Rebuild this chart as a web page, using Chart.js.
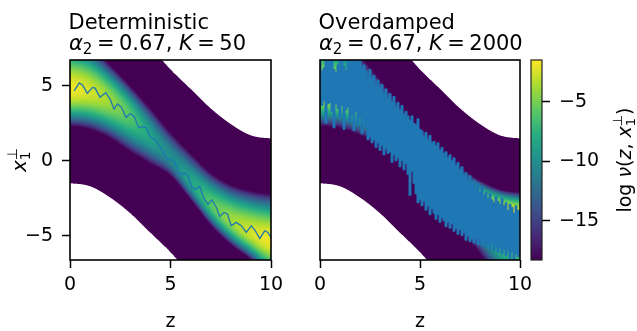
<!DOCTYPE html>
<html>
<head>
<meta charset="utf-8">
<script src="https://cdn.jsdelivr.net/npm/chart.js@4.4.1/dist/chart.umd.min.js"></script>
<style>
  html, body { margin: 0; padding: 0; background: #fff; }
  #wrap { position: relative; width: 637px; height: 331px; overflow: hidden; }
  .box { position: absolute; top: 0; height: 331px; }
  canvas { display: block; }
</style>
</head>
<body>
<div id="wrap">
  <div class="box" style="left:0;width:300px"><canvas id="left" width="300" height="331"></canvas></div>
  <div class="box" style="left:250px;width:300px"><canvas id="right" width="300" height="331"></canvas></div>
  <div class="box" style="left:500px;width:137px"><canvas id="cbar" width="137" height="331"></canvas></div>
</div>
<script>
// axis ranges and ticks
const zRange = [0, 10];
const xRange = [-6.62, 6.73];
const cbarRange = [-18.3, -1.5];
const zTicks = [0, 5, 10];

const detCenter = [4.8, 4.6, 4.0, 3.0, 1.6, 0.2, -1.4, -2.9, -4.0, -4.8, -5.3];
const detUpper  = [8.0, 7.6, 6.4, 5.0, 3.5, 1.9, 0.5, -0.8, -1.6, -2.0, -2.2];
const detLower  = [2.3, 2.1, 1.5, 0.6, -0.2, -1.0, -2.6, -4.3, -5.6, -6.6, -7.8];
const detPeak   = [-1.8, -2.6, -4, -6, -8.5, -10, -8.5, -6, -4, -2.6, -1.8];

const odCenter = [4.8, 4.5, 3.9, 3.0, 1.8, 0.4, -1.0, -2.2, -2.7, -3.2, -3.6];
const odUpper  = [8.2, 8.0, 7.0, 5.4, 3.6, 2.2, 0.85, -0.4, -1.3, -1.9, -2.1];
const odLower  = [2.3, 2.2, 1.7, 1.1, 0.2, -0.8, -2.9, -4.5, -6.2, -8.0, -8.8];
const odPeak   = [-2.2, -2.8, -4.5, -6, -7.5, -8.5, -7.5, -5.5, -3.5, -2.2, -1.6];

// white (undefined) region outside these limits
const maskLower = [-1.5, -1.7, -2.45, -3.5, -4.8, -6.1, -7.6, -8.9, -9.9, -10.5, -10.7];
const maskUpper = [10.7, 10.5, 9.9, 8.9, 7.6, 6.1, 4.8, 3.5, 2.45, 1.7, 1.5];

// deterministic trajectory
const detPathZ = [0.21, 0.46, 0.63, 0.86, 1.12, 1.25, 1.49, 1.78, 2.0, 2.19, 2.36, 2.55, 2.79, 3.0, 3.2, 3.42, 3.6, 3.8, 4.0, 4.2, 4.38, 4.6, 4.86,
  5.04, 5.21, 5.46, 5.71, 5.87, 6.07, 6.28, 6.45, 6.67, 6.87, 7.06, 7.28, 7.45, 7.66, 7.83, 8.02, 8.27, 8.52, 8.77, 9.02, 9.22, 9.44, 9.69, 9.85, 9.99];
const detPathX = [4.67, 5.2, 5.05, 4.5, 4.9, 4.85, 4.25, 4.55, 4.1, 3.45, 3.8, 3.6, 2.9, 3.15, 2.95, 2.2, 2.3, 2.2, 1.55, 1.45, 1.1, 0.68, 0.05,
  0.11, -0.11, -0.89, -0.82, -1.0, -1.78, -1.89, -1.71, -2.55, -2.89, -2.6, -3.11, -3.71, -3.45, -3.55, -4.33, -4.11, -4.33, -4.78, -4.33, -4.67, -5.18, -4.67, -4.78, -5.11];

// overdamped trajectory envelope, every 0.1 in z
const odTop = [7.0, 6.0, 6.2, 7.0, 7.0, 6.6, 7.0, 6.1, 5.9, 6.4,
  7.0, 7.0, 6.3, 6.0, 7.0, 7.0, 6.5, 7.0, 6.8, 7.0,
  6.7, 6.2, 6.4, 6.0, 5.6, 6.1, 5.5, 5.7, 5.0, 5.4,
  4.9, 5.1, 4.4, 4.8, 4.2, 4.5, 3.9, 4.3, 3.6, 3.9,
  3.4, 3.7, 3.1, 3.3, 3.0, 2.7, 3.0, 2.5, 2.4, 2.8,
  2.1, 2.0, 1.6, 1.9, 1.4, 1.7, 1.2, 1.3, 1.0, 1.2,
  0.7, 0.9, 0.5, 0.6, 0.2, 0.4, 0.0, 0.2, -0.3, -0.1,
  -0.6, -0.4, -1.0, -0.8, -1.3, -1.0, -1.5, -1.3, -1.8, -1.5,
  -2.1, -1.7, -2.3, -2.1, -2.5, -2.2, -2.6, -2.8, -2.4, -2.7,
  -2.9, -2.5, -3.0, -2.8, -3.3, -2.9, -3.1, -3.5, -3.0, -3.3,
  -3.4];
const odBottom = [3.9, 3.7, 4.0, 2.5, 3.8, 3.9, 3.3, 2.2, 3.8, 3.5,
  2.9, 3.7, 2.1, 3.4, 3.6, 2.6, 3.1, 2.0, 3.3, 2.4,
  2.9, 1.8, 2.6, 2.2, 1.4, 1.6, 1.2, 1.4, 0.9, 1.2,
  0.7, 1.0, 0.4, 0.8, 0.5, 0.6, -0.1, 0.4, 0.0, 0.2,
  -0.4, 0.0, -0.6, -0.2, -0.9, -2.3, -0.7, -1.5, -2.2, -2.8,
  -2.6, -3.0, -2.7, -3.3, -3.0, -3.6, -3.2, -3.5, -3.9, -3.6,
  -4.1, -3.8, -4.0, -4.4, -4.1, -4.5, -4.2, -4.7, -4.5, -4.9,
  -4.6, -5.0, -4.8, -5.3, -5.0, -5.4, -5.2, -5.5, -5.1, -5.6,
  -5.3, -5.7, -5.4, -5.8, -5.5, -5.9, -5.5, -6.0, -5.7, -6.1,
  -5.8, -6.2, -5.9, -6.3, -6.0, -6.5, -6.1, -6.6, -6.2, -6.4,
  -6.3];

const BLUE = '#1f77b4';
const VIRIDIS = ['#440154','#472c7a','#3b518b','#2c718e','#21908d','#27ad81','#5cc863','#aadc32','#fde725']
  .map(h => [1, 3, 5].map(i => parseInt(h.substr(i, 2), 16)));

function viridis(t) {
  t = Math.max(0, Math.min(1, t)) * (VIRIDIS.length - 1);
  const i = Math.min(VIRIDIS.length - 2, Math.floor(t)), f = t - i;
  return VIRIDIS[i].map((c, k) => c + (VIRIDIS[i + 1][k] - c) * f);
}

// smooth curve through the per-unit samples
function sample(arr, z) {
  const n = arr.length - 1;
  const s = Math.max(0, Math.min(n, z));
  const i = Math.min(n - 1, Math.floor(s)), t = s - i;
  const p0 = arr[Math.max(0, i - 1)], p1 = arr[i], p2 = arr[i + 1], p3 = arr[Math.min(n, i + 2)];
  return 0.5 * (2 * p1 + (p2 - p0) * t + (2 * p0 - 5 * p1 + 4 * p2 - p3) * t * t + (3 * p1 - p0 - 3 * p2 + p3) * t * t * t);
}

function column(prof, z) {
  return {
    mLo: sample(maskLower, z), mUp: sample(maskUpper, z),
    c: sample(prof.center, z), pk: sample(prof.peak, z),
    up: sample(prof.upper, z), lo: sample(prof.lower, z)
  };
}

function colourAt(col, x) {
  if (x < col.mLo || x > col.mUp) return [255, 255, 255];
  const edge = x >= col.c ? col.up : col.lo;
  const r = (x - col.c) / (edge - col.c);
  const v = Math.max(cbarRange[0], col.pk - (col.pk - cbarRange[0]) * r * r);
  return viridis((v - cbarRange[0]) / (cbarRange[1] - cbarRange[0]));
}

const SS = 3;
function heatPlugin(prof) {
  return {
    id: 'heat',
    beforeDatasetsDraw(chart) {
      const a = chart.chartArea, xs = chart.scales.x, ys = chart.scales.y;
      const w = Math.round(a.right - a.left), h = Math.round(a.bottom - a.top);
      const off = document.createElement('canvas');
      off.width = w; off.height = h;
      const octx = off.getContext('2d');
      const img = octx.createImageData(w, h);
      const rows = [];
      for (let j = 0; j < h * SS; j++) rows.push(ys.getValueForPixel(a.top + (j + 0.5) / SS));
      for (let i = 0; i < w; i++) {
        const cols = [];
        for (let s = 0; s < SS; s++) cols.push(column(prof, xs.getValueForPixel(a.left + i + (s + 0.5) / SS)));
        for (let j = 0; j < h; j++) {
          const acc = [0, 0, 0];
          for (const col of cols) {
            for (let s = 0; s < SS; s++) {
              const c = colourAt(col, rows[j * SS + s]);
              acc[0] += c[0]; acc[1] += c[1]; acc[2] += c[2];
            }
          }
          const k = (j * w + i) * 4, n = SS * SS;
          img.data[k] = acc[0] / n; img.data[k + 1] = acc[1] / n; img.data[k + 2] = acc[2] / n;
          img.data[k + 3] = 255;
        }
      }
      octx.putImageData(img, 0, 0);
      chart.ctx.drawImage(off, a.left, a.top, w, h);
    }
  };
}

const framePlugin = {
  id: 'frame',
  afterDatasetsDraw(chart) {
    const a = chart.chartArea, ctx = chart.ctx;
    ctx.save();
    ctx.strokeStyle = '#000';
    ctx.lineWidth = 1.6;
    ctx.strokeRect(a.left, a.top, a.right - a.left, a.bottom - a.top);
    ctx.restore();
  }
};

const F = 'DejaVu Sans';
const font = (size, italic) => (italic ? 'italic ' : '') + size + 'px "' + F + '"';

// draws pieces of text one after another; stack:true puts a piece over the previous one
function rich(ctx, x, y, parts, measureOnly) {
  let cx = x, prevX = x, prevW = 0;
  for (const p of parts) {
    ctx.font = p.f;
    const w = ctx.measureText(p.t).width;
    const px = p.stack ? prevX : cx;
    if (!measureOnly) ctx.fillText(p.t, px, y + (p.dy || 0));
    if (p.stack) cx = prevX + Math.max(prevW, w);
    else { prevX = cx; prevW = w; cx += w; }
    cx += p.gap || 0;
  }
  return cx - x;
}

function titleParts(k) {
  return [
    { t: 'α', f: font(21, true) },
    { t: '2', f: font(15), dy: 4, gap: 4.5 },
    { t: '=', f: font(21), gap: 4.5 },
    { t: '0.67,', f: font(21), gap: 6.5 },
    { t: 'K', f: font(21, true), gap: 4.5 },
    { t: '=', f: font(21), gap: 4.5 },
    { t: k, f: font(21) }
  ];
}

const perpParts = [
  { t: 'x', f: font(20, true) },
  { t: '1', f: font(14), dy: 4 },
  { t: '⊥', f: font(14), dy: -9, stack: true }
];

function textPlugin(items) {
  return {
    id: 'texts',
    afterDraw(chart) {
      const ctx = chart.ctx, a = chart.chartArea;
      ctx.save();
      ctx.fillStyle = '#000';
      ctx.textBaseline = 'alphabetic';
      ctx.textAlign = 'left';
      items(a).forEach(it => {
        ctx.save();
        ctx.translate(it.x, it.y);
        if (it.rot) ctx.rotate(-Math.PI / 2);
        const w = rich(ctx, 0, 0, it.parts, true);
        rich(ctx, it.center ? -w / 2 : 0, 0, it.parts);
        ctx.restore();
      });
      ctx.restore();
    }
  };
}

const minus = v => (v < 0 ? '\u2212' + Math.abs(v) : '' + v);

function axisX() {
  return {
    type: 'linear', min: zRange[0], max: zRange[1],
    afterFit(s) { s.height = 71; },
    afterBuildTicks(s) { s.ticks = zTicks.map(v => ({ value: v })); },
    ticks: { callback: minus, font: { family: F, size: 19 }, color: '#000', padding: 6, maxRotation: 0, autoSkip: false },
    grid: { display: true, drawOnChartArea: false, drawTicks: true, tickLength: 8, tickColor: '#000', tickWidth: 1.5 },
    border: { display: false }
  };
}

function panelText(k, name, withY) {
  return a => {
    const list = [
      { x: a.left - 1.5, y: 28.5, parts: [{ t: name, f: font(21) }] },
      { x: a.left - 1, y: 50, parts: titleParts(k) },
      { x: (a.left + a.right) / 2, y: 327, center: true, parts: [{ t: 'z', f: font(19) }] }
    ];
    if (withY) list.push({ x: 25.5, y: (a.top + a.bottom) / 2, rot: true, center: true, parts: perpParts });
    return list;
  };
}

Chart.defaults.font.family = F;
Chart.defaults.color = '#000';

new Chart(document.getElementById('left'), {
  type: 'line',
  data: {
    datasets: [{
      data: detPathZ.map((z, i) => ({ x: z, y: detPathX[i] })),
      borderColor: BLUE, borderWidth: 1.3, pointRadius: 0, tension: 0, fill: false
    }]
  },
  options: {
    responsive: false, animation: false,
    layout: { padding: { top: 60, right: 29, left: 0, bottom: 0 } },
    plugins: { legend: { display: false }, tooltip: { enabled: false } },
    scales: {
      x: axisX(),
      y: {
        type: 'linear', min: xRange[0], max: xRange[1],
        afterFit(s) { s.width = 70; },
        ticks: { stepSize: 5, includeBounds: false, callback: minus, font: { family: F, size: 19 }, color: '#000', padding: 9 },
        grid: { display: true, drawOnChartArea: false, drawTicks: true, tickLength: 8, tickColor: '#000', tickWidth: 1.5 },
        border: { display: false }
      }
    }
  },
  plugins: [heatPlugin({ center: detCenter, upper: detUpper, lower: detLower, peak: detPeak }), framePlugin,
    textPlugin(panelText('50', 'Deterministic', true))]
});

const odZ = odTop.map((_, i) => i / 10);

new Chart(document.getElementById('right'), {
  type: 'line',
  data: {
    datasets: [
      { data: odZ.map((z, i) => ({ x: z, y: odTop[i] })), borderColor: BLUE, borderWidth: 1, pointRadius: 0, stepped: 'middle', fill: false },
      { data: odZ.map((z, i) => ({ x: z, y: odBottom[i] })), borderColor: BLUE, borderWidth: 1, pointRadius: 0, stepped: 'middle',
        fill: '-1', backgroundColor: BLUE }
    ]
  },
  options: {
    responsive: false, animation: false,
    layout: { padding: { top: 60, right: 30, left: 70, bottom: 0 } },
    plugins: { legend: { display: false }, tooltip: { enabled: false } },
    scales: {
      x: axisX(),
      y: { type: 'linear', display: false, min: xRange[0], max: xRange[1] }
    }
  },
  plugins: [heatPlugin({ center: odCenter, upper: odUpper, lower: odLower, peak: odPeak }), framePlugin,
    textPlugin(panelText('2000', 'Overdamped', false))]
});

const cbarPlugin = {
  id: 'cbarFill',
  beforeDatasetsDraw(chart) {
    const a = chart.chartArea, ys = chart.scales.y, ctx = chart.ctx;
    for (let py = Math.floor(a.top); py < a.bottom; py++) {
      const v = ys.getValueForPixel(py + 0.5);
      const c = viridis((v - cbarRange[0]) / (cbarRange[1] - cbarRange[0])).map(Math.round);
      ctx.fillStyle = 'rgb(' + c.join(',') + ')';
      ctx.fillRect(a.left, py, a.right - a.left, 1);
    }
    ctx.save();
    ctx.strokeStyle = '#222';
    ctx.lineWidth = 1.2;
    ctx.strokeRect(a.left, a.top, a.right - a.left, a.bottom - a.top);
    ctx.restore();
  }
};

new Chart(document.getElementById('cbar'), {
  type: 'scatter',
  data: { datasets: [] },
  options: {
    responsive: false, animation: false,
    layout: { padding: { top: 60, right: 0, left: 31, bottom: 71 } },
    plugins: { legend: { display: false }, tooltip: { enabled: false } },
    scales: {
      x: { display: false, min: 0, max: 1 },
      y: {
        type: 'linear', position: 'right', min: cbarRange[0], max: cbarRange[1],
        afterFit(s) { s.width = 95; },
        ticks: { stepSize: 5, includeBounds: false, callback: minus, font: { family: F, size: 19 }, color: '#000', padding: 9 },
        grid: { display: true, drawOnChartArea: false, drawTicks: true, tickLength: 8, tickColor: '#000', tickWidth: 1.5 },
        border: { display: false }
      }
    }
  },
  plugins: [cbarPlugin, textPlugin(a => [{
    x: 131, y: (a.top + a.bottom) / 2, rot: true, center: true,
    parts: [
      { t: 'log ', f: font(19) },
      { t: 'ν', f: font(19, true) },
      { t: '(', f: font(19) },
      { t: 'z', f: font(19, true) },
      { t: ', ', f: font(19) },
      { t: 'x', f: font(19, true) },
      { t: '1', f: font(13), dy: 4 },
      { t: '⊥', f: font(13), dy: -9, stack: true },
      { t: ')', f: font(19) }
    ]
  }])]
});
</script>
</body>
</html>
